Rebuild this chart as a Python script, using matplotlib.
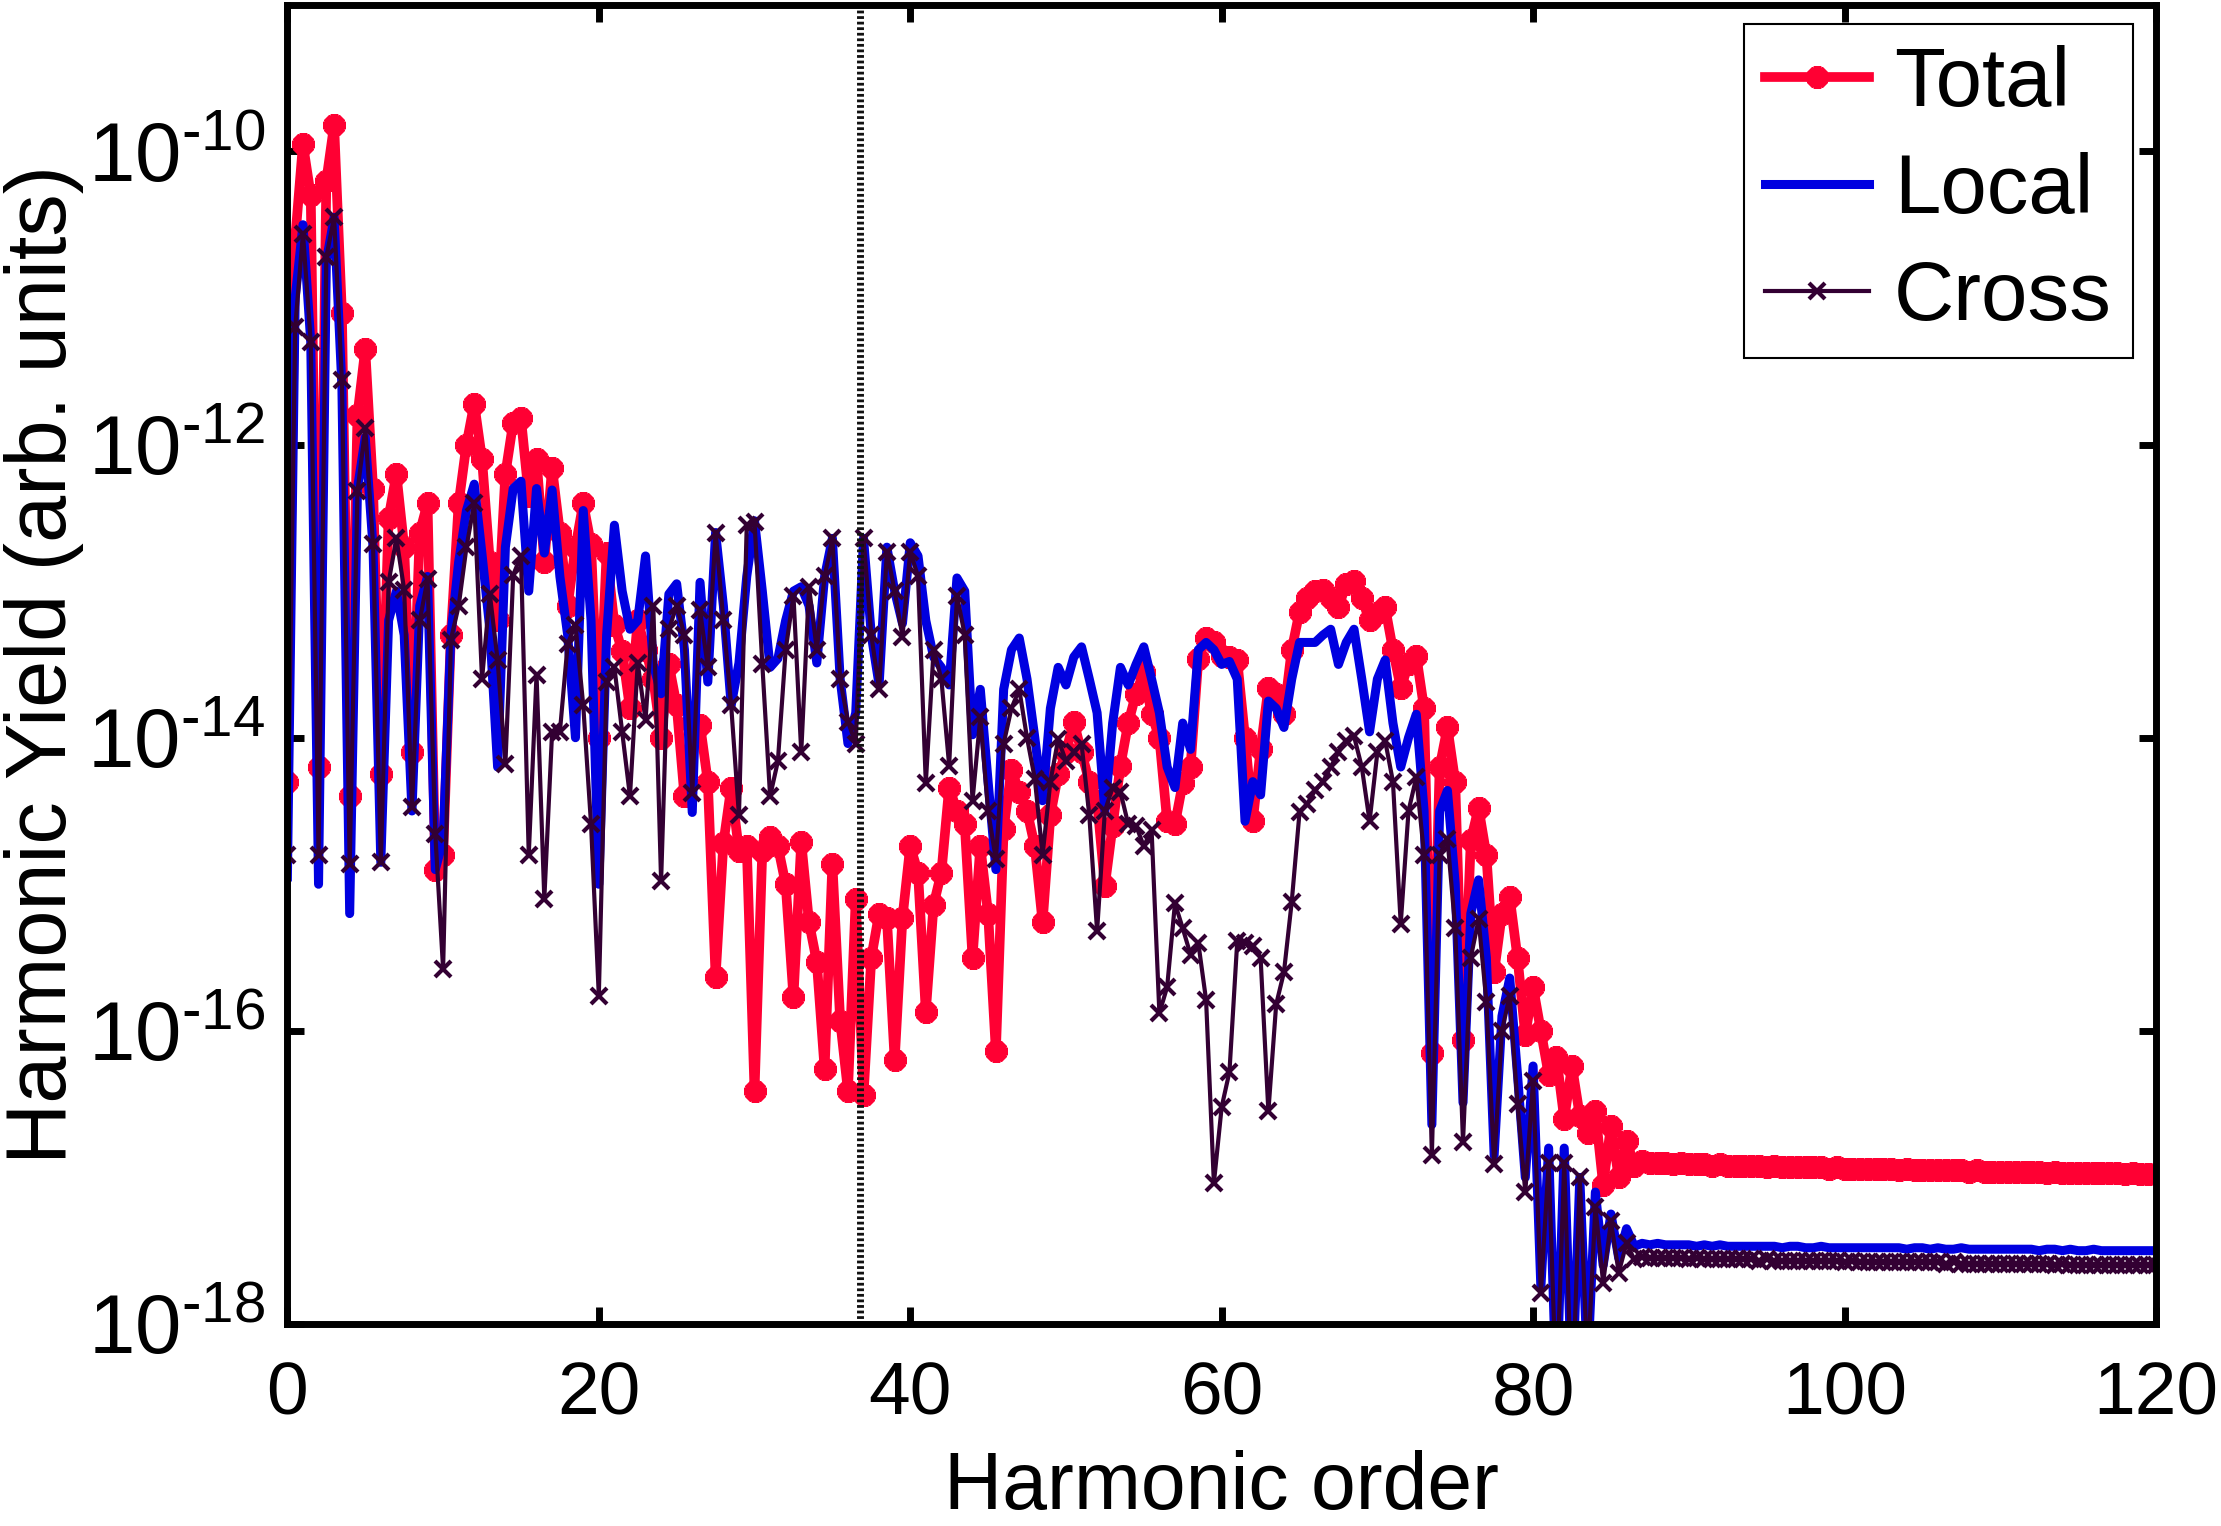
import numpy as np
import matplotlib.pyplot as plt
from matplotlib.ticker import FixedLocator, FuncFormatter, NullLocator

plt.rcParams['font.family'] = ['Liberation Sans', 'DejaVu Sans']
plt.rcParams['mathtext.fontset'] = 'custom'
plt.rcParams['mathtext.rm'] = 'Liberation Sans'
plt.rcParams['mathtext.it'] = 'Liberation Sans:italic'

# harmonic order grid (step 0.5)
harmonic = np.arange(0, 120.25, 0.5)

# log10 of the harmonic yield
total_log = [
    -14.3, -10.6, -9.95, -10.3, -14.2, -10.2, -9.82, -11.1, -14.4, -11.8,
    -11.35, -12.3, -14.25, -12.5, -12.2, -12.7, -14.1, -12.6, -12.4, -14.9,
    -14.8, -13.3, -12.4, -12.0, -11.72, -12.1, -12.8, -13.2, -12.2, -11.85,
    -11.82, -12.35, -12.1, -12.8, -12.16, -12.6, -13.1, -12.7, -12.4, -12.68,
    -14.0, -12.74, -13.23, -13.41, -13.8, -13.2, -13.4, -13.6, -14.0, -13.5,
    -13.78, -14.4, -13.9, -13.91, -14.3, -15.63, -14.72, -14.34, -14.77, -14.74,
    -16.41, -14.77, -14.68, -14.74, -15.0, -15.77, -14.71, -15.26, -15.53, -16.26,
    -14.86, -15.93, -16.41, -15.1, -16.44, -15.5, -15.2, -15.23, -16.2, -15.23,
    -14.74, -14.92, -15.87, -15.14, -14.92, -14.34, -14.5, -14.59, -15.5, -14.74,
    -15.2, -16.14, -14.62, -14.22, -14.37, -14.5, -14.74, -15.26, -14.53, -14.25,
    -14.1, -13.89, -14.1, -14.3, -14.43, -15.01, -14.6, -14.19, -13.9, -13.7,
    -13.55, -13.84, -14.0, -14.57, -14.59, -14.31, -14.2, -13.46, -13.32, -13.35,
    -13.44, -13.45, -13.47, -14.0, -14.57, -14.08, -13.66, -13.7, -13.84, -13.4,
    -13.14, -13.05, -13.0, -12.99, -13.05, -13.11, -12.95, -12.93, -13.05, -13.2,
    -13.15, -13.11, -13.4, -13.66, -13.5, -13.44, -13.8, -16.15, -14.2, -13.93,
    -14.3, -16.06, -14.7, -14.48, -14.8, -15.6, -15.2, -15.09, -15.5, -16.03,
    -15.7, -16.0, -16.3, -16.18, -16.6, -16.24, -16.58, -16.7, -16.55, -17.05,
    -16.65, -17.0, -16.75, -16.92,
    -16.89, -16.90, -16.90, -16.90, -16.91, -16.90, -16.91, -16.91, -16.91, -16.92,
    -16.91, -16.92, -16.92, -16.92, -16.92, -16.92, -16.93, -16.92, -16.93, -16.93,
    -16.93, -16.93, -16.93, -16.93, -16.94, -16.93, -16.94, -16.94, -16.94, -16.94,
    -16.94, -16.94, -16.94, -16.95, -16.94, -16.95, -16.95, -16.95, -16.95, -16.95,
    -16.95, -16.95, -16.96, -16.95, -16.96, -16.96, -16.96, -16.96, -16.96, -16.96,
    -16.96, -16.96, -16.97, -16.96, -16.97, -16.97, -16.97, -16.97, -16.97, -16.97,
    -16.97, -16.97, -16.98, -16.97, -16.98, -16.98, -16.98,
]

local_log = [
    -14.95, -11.0, -10.5, -11.3, -15.0, -10.75, -10.45, -11.6, -15.2, -12.3,
    -11.95, -12.7, -14.85, -13.2, -13.0, -13.3, -14.5, -13.1, -12.9, -14.9,
    -14.7, -13.3, -12.8, -12.45, -12.27, -12.75, -13.26, -14.2, -12.7, -12.3,
    -12.25, -13.0, -12.3, -12.74, -12.31, -12.9, -13.3, -14.0, -12.45, -13.2,
    -15.0, -13.3, -12.55, -13.0, -13.26, -13.2, -12.76, -13.5, -13.7, -13.02,
    -12.95, -13.4, -14.51, -12.94, -13.62, -12.6, -13.1, -13.78, -13.49, -12.9,
    -12.52, -13.0, -13.52, -13.46, -13.2, -13.0, -12.97, -13.1, -13.49, -12.9,
    -12.64, -13.6, -14.04, -13.83, -12.64, -13.3, -13.64, -12.7, -13.0, -13.22,
    -12.67, -12.76, -13.2, -13.45, -13.52, -13.64, -12.91, -13.0, -13.98, -13.67,
    -14.3, -14.9, -13.67, -13.4, -13.32, -13.6, -14.0, -14.43, -13.8, -13.52,
    -13.64, -13.45, -13.38, -13.6, -13.83, -14.5, -13.9, -13.52, -13.64, -13.5,
    -13.38, -13.6, -13.83, -14.2, -14.34, -13.9, -14.08, -13.4, -13.35, -13.4,
    -13.5, -13.48, -13.6, -14.57, -14.3, -14.39, -13.75, -13.8, -13.93, -13.6,
    -13.35, -13.35, -13.35, -13.3, -13.26, -13.5, -13.35, -13.26, -13.6, -13.96,
    -13.6, -13.47, -13.9, -14.2, -14.0, -13.84, -14.5, -16.64, -14.5, -14.36,
    -15.0, -16.49, -15.2, -14.97, -15.5, -16.85, -15.9, -15.64, -16.3, -17.0,
    -16.24, -17.75, -16.8, -18.5, -16.8, -18.5, -17.0, -18.3, -17.1, -17.6,
    -17.25, -17.55, -17.35, -17.47,
    -17.45, -17.46, -17.45, -17.46, -17.46, -17.46, -17.46, -17.47, -17.46, -17.47,
    -17.46, -17.47, -17.47, -17.47, -17.47, -17.47, -17.47, -17.47, -17.48, -17.47,
    -17.47, -17.48, -17.48, -17.47, -17.48, -17.48, -17.48, -17.48, -17.48, -17.48,
    -17.48, -17.48, -17.48, -17.48, -17.49, -17.48, -17.48, -17.49, -17.48, -17.49,
    -17.49, -17.48, -17.49, -17.49, -17.49, -17.49, -17.49, -17.49, -17.49, -17.49,
    -17.49, -17.50, -17.49, -17.49, -17.50, -17.49, -17.50, -17.50, -17.49, -17.50,
    -17.50, -17.50, -17.50, -17.50, -17.50, -17.50, -17.50,
]

cross_log = [
    -14.8, -11.2, -10.56, -11.3, -14.8, -10.72, -10.45, -11.56, -14.86, -12.32,
    -11.89, -12.68, -14.85, -12.94, -12.64, -12.99, -14.47, -13.2, -12.92, -14.66,
    -15.58, -13.33, -13.1, -12.7, -12.4, -13.6, -13.02, -13.47, -14.18, -12.89,
    -12.76, -14.8, -13.57, -15.1, -13.96, -13.96, -13.36, -13.23, -13.78, -14.59,
    -15.76, -13.62, -13.52, -13.96, -14.4, -13.49, -13.88, -13.1, -14.98, -13.26,
    -13.1, -13.3, -14.38, -13.13, -13.52, -12.6, -13.2, -13.78, -14.53, -12.55,
    -12.53, -13.5, -14.4, -14.16, -13.4, -13.03, -14.1, -12.97, -13.4, -12.9,
    -12.64, -13.6, -13.89, -14.04, -12.64, -13.3, -13.67, -12.73, -13.0, -13.31,
    -12.73, -12.9, -14.31, -13.4, -13.6, -14.19, -13.03, -13.3, -14.43, -13.86,
    -14.5, -14.83, -14.04, -13.8, -13.67, -14.0, -14.28, -14.8, -14.3, -14.01,
    -14.16, -14.1, -14.04, -14.53, -15.32, -14.5, -14.34, -14.37, -14.59, -14.6,
    -14.74, -14.63, -15.88, -15.7, -15.13, -15.3, -15.48, -15.4, -15.79, -17.04,
    -16.52, -16.28, -15.39, -15.4, -15.42, -15.5, -16.55, -15.82, -15.6, -15.12,
    -14.51, -14.45, -14.36, -14.3, -14.2, -14.1, -14.02, -13.99, -14.2, -14.57,
    -14.1, -14.02, -14.3, -15.27, -14.5, -14.27, -14.8, -16.85, -14.8, -14.69,
    -15.3, -16.76, -15.5, -15.24, -15.8, -16.91, -16.0, -15.76, -16.5, -17.1,
    -16.34, -17.79, -16.9, -18.5, -16.9, -18.6, -17.0, -18.3, -17.2, -17.72,
    -17.3, -17.65, -17.45, -17.56,
    -17.54, -17.55, -17.55, -17.55, -17.55, -17.55, -17.56, -17.55, -17.56, -17.56,
    -17.56, -17.56, -17.56, -17.56, -17.56, -17.57, -17.56, -17.57, -17.57, -17.57,
    -17.57, -17.57, -17.57, -17.57, -17.57, -17.57, -17.58, -17.57, -17.58, -17.58,
    -17.58, -17.58, -17.58, -17.58, -17.58, -17.58, -17.58, -17.58, -17.58, -17.59,
    -17.58, -17.59, -17.59, -17.59, -17.59, -17.59, -17.59, -17.59, -17.59, -17.59,
    -17.59, -17.59, -17.59, -17.60, -17.59, -17.60, -17.60, -17.60, -17.60, -17.60,
    -17.60, -17.60, -17.60, -17.60, -17.60, -17.60, -17.60,
]

cutoff_order = 36.8   # dotted vertical line

series_labels = ['Total', 'Local', 'Cross']
y_ticks = [1e-18, 1e-16, 1e-14, 1e-12, 1e-10]
x_ticks = [0, 20, 40, 60, 80, 100, 120]

total = 10.0 ** np.array(total_log)
local = 10.0 ** np.array(local_log)
cross = 10.0 ** np.array(cross_log)


def decade_label(v, pos):
    # MATLAB-style 10^-n with a short hyphen in the exponent
    return '$\\mathregular{10^{\u2010%d}}$' % abs(round(np.log10(v)))


fig = plt.figure(figsize=(22.21, 15.26), dpi=100, facecolor='white')
ax = fig.add_axes([0.1294, 0.1324, 0.8413, 0.8644])

ax.semilogy(harmonic, total, color='#ff0033', linewidth=7,
            marker=(8, 2, 0), markersize=16, markeredgewidth=5.5,
            label=series_labels[0])
ax.semilogy(harmonic, local, color='#0000e0', linewidth=6.5,
            label=series_labels[1])
ax.semilogy(harmonic, cross, color='#330033', linewidth=3,
            marker='x', markersize=11, markeredgewidth=3,
            label=series_labels[2])
ax.axvline(cutoff_order, color='#111111', linestyle=(0, (0.4, 0.4)),
           linewidth=5)

ax.set_xlim(0, 120)
ax.set_ylim(1e-18, 1e-9)
ax.xaxis.set_major_locator(FixedLocator(x_ticks))
ax.yaxis.set_major_locator(FixedLocator(y_ticks))
ax.yaxis.set_minor_locator(NullLocator())
ax.yaxis.set_major_formatter(FuncFormatter(decade_label))

ax.tick_params(axis='both', which='major', direction='in', length=12,
               width=5, top=True, right=True)
ax.tick_params(axis='x', pad=26, labelsize=54)
ax.tick_params(axis='y', pad=16, labelsize=60)
for sp in ax.spines.values():
    sp.set_linewidth(5)

ax.set_xlabel('Harmonic order', fontsize=58, labelpad=15)
ax.set_ylabel('Harmonic Yield (arb. units)', fontsize=61, labelpad=2)

leg = ax.legend(loc='upper right', bbox_to_anchor=(0.9877, 0.9856),
                fontsize=60, frameon=True, fancybox=False, edgecolor='black',
                framealpha=1, borderaxespad=0, handlelength=1.25,
                handletextpad=0.3, labelspacing=0.35, borderpad=0.25,
                numpoints=1)
leg.get_frame().set_linewidth(1.5)

fig.savefig('out.png', dpi=100)
